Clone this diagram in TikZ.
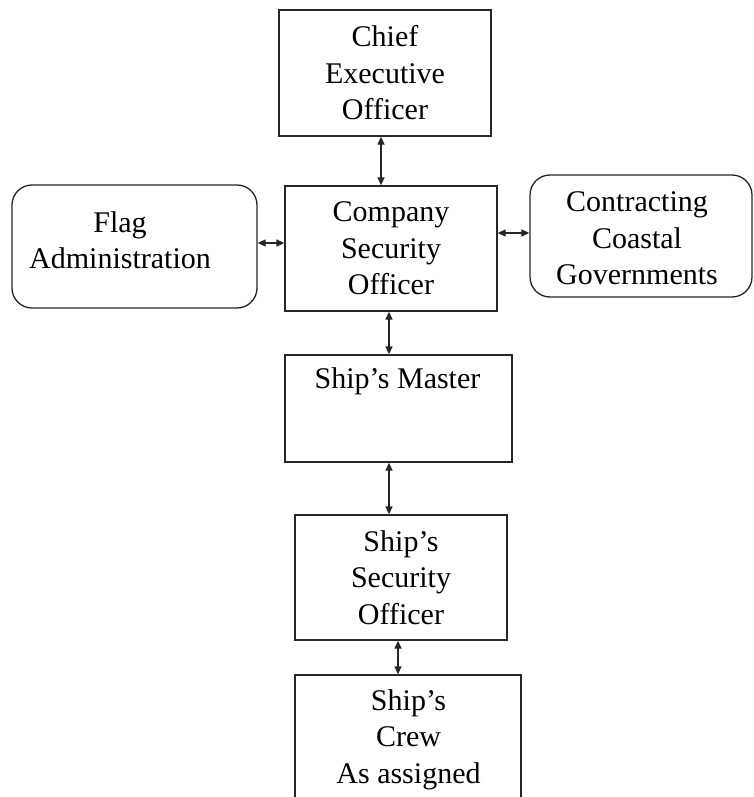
\documentclass[tikz,border=0pt]{standalone}
\usepackage{fontspec}
\setmainfont{Liberation Serif}
\usetikzlibrary{arrows.meta,calc}
\begin{document}
\begin{tikzpicture}[x=1pt,y=-1pt,
  box/.style={draw=black!85, line width=1.3pt, inner sep=0pt, align=center, font=\fontsize{30}{36.5}\selectfont},
  rbox/.style={box, rounded corners=20pt},
  txt/.style={inner sep=0pt, align=center, font=\fontsize{30}{36.5}\selectfont},
  link/.style={draw=black!85, line width=1.3pt, {Triangle[length=8pt,width=7pt]}-{Triangle[length=8pt,width=7pt]}}]
\useasboundingbox (0,0) rectangle (753,797);
\clip (0,0) rectangle (753,797);
% boxes
\node[box, minimum width=212, minimum height=126] (ceo) at (385,73) {Chief\\Executive\\Officer};
\node[box, minimum width=212, minimum height=125] (cso) at (391,248.5) {Company\\Security\\Officer};
\node[rbox, minimum width=245, minimum height=123] (flag) at (134.5,246.5) {};
\node[txt] (flagtxt) at (120,240) {Flag\\Administration};
\node[rbox, minimum width=222, minimum height=122] (ccg) at (641,236) {};
\node[txt] (ccgtxt) at (637,238.5) {Contracting\\Coastal\\Governments};
\node[box, minimum width=227, minimum height=107] (sm) at (398.5,408.5) {};
\node[txt, anchor=base] (smtxt) at (397.5,388) {Ship’s Master};
\node[box, minimum width=212, minimum height=125] (sso) at (401,577.5) {Ship’s\\Security\\Officer};
\node[box, minimum width=226, minimum height=140] (crew) at (408,745) {};
\node[txt] (crewtxt) at (408.5,739.5) {Ship’s\\Crew\\As assigned};
% connector positions
\coordinate (xa) at (381,0);
\coordinate (xb) at (389,0);
\coordinate (xc) at (398,0);
\coordinate (ya) at (0,243);
\coordinate (yb) at (0,233);
% connectors
\draw[link] (ceo.south -| xa) -- (cso.north -| xa);
\draw[link] (flag.east |- ya) -- (cso.west |- ya);
\draw[link] (cso.east |- yb) -- (ccg.west |- yb);
\draw[link] (cso.south -| xb) -- (sm.north -| xb);
\draw[link] (sm.south -| xb) -- (sso.north -| xb);
\draw[link] (sso.south -| xc) -- (crew.north -| xc);
\end{tikzpicture}
\end{document}
